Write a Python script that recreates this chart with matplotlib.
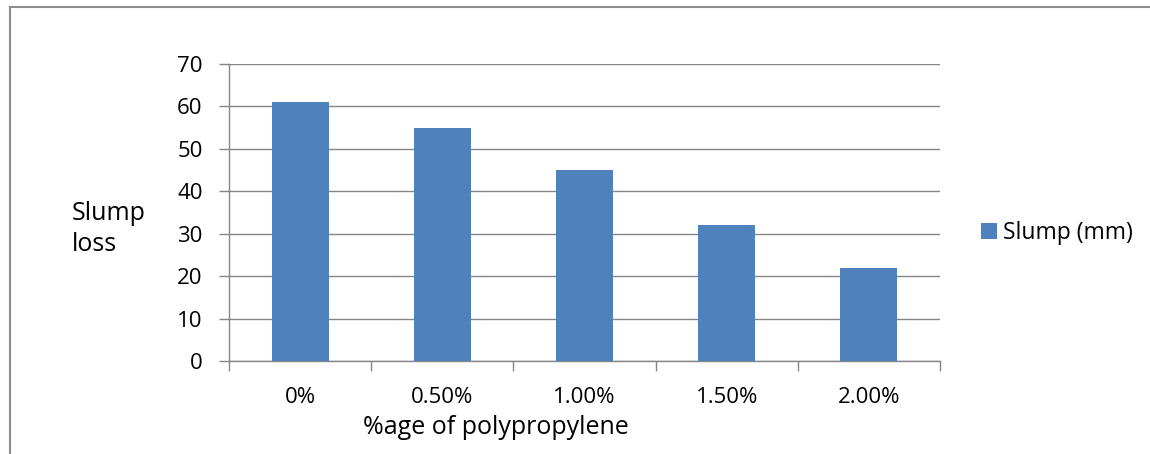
import matplotlib
matplotlib.use('Agg')
import numpy as np
import matplotlib.pyplot as plt
from matplotlib.lines import Line2D

# Data
categories = ['0%', '0.50%', '1.00%', '1.50%', '2.00%']
slump = [61, 55, 45, 32, 22]
series_name = 'Slump (mm)'

plt.rcParams['font.family'] = ['Open Sans', 'DejaVu Sans']
fs = 16

bar_color = '#4F81BD'
grid_color = '#868686'

fig = plt.figure(figsize=(11.5, 4.54), dpi=100)
ax = fig.add_axes([229/1150, 93/454, 711/1150, 297/454])

x = np.arange(len(categories))
ax.bar(x, slump, width=0.4, color=bar_color, label=series_name, zorder=3)

ax.set_xlim(-0.5, len(categories) - 0.5)
ax.set_ylim(0, 70)
ax.set_yticks(np.arange(0, 71, 10))
ax.yaxis.grid(True, color=grid_color, linewidth=1, zorder=0)

ax.set_xticks(x)
ax.set_xticklabels(categories, fontsize=fs)
ax.set_xticks(np.arange(-0.5, len(categories)), minor=True)
ax.tick_params(axis='x', which='major', length=0, pad=19)
ax.tick_params(axis='x', which='minor', length=7, color=grid_color, width=1)
ax.tick_params(axis='y', length=7, color=grid_color, width=1, labelsize=fs, pad=12)

for s in ['top', 'right']:
    ax.spines[s].set_visible(False)
for s in ['left', 'bottom']:
    ax.spines[s].set_color(grid_color)
    ax.spines[s].set_linewidth(1)

# axis titles (placed like the original, not centred on the axes)
fig.text(496/1150, 1 - 428/454, '%age of polypropylene', fontsize=18,
         ha='center', va='center')
fig.text(72/1150, 1 - 229/454, 'Slump\nloss', fontsize=18, ha='left',
         va='center', linespacing=1.3)

ax.legend(loc='center left', bbox_to_anchor=(1.028, 0.43), frameon=False,
          fontsize=16.5, handlelength=0.7, handleheight=0.7,
          handletextpad=0.3)

# outer chart frame
fig.add_artist(Line2D([10/1150, 10/1150], [0, 1 - 7/454],
                      transform=fig.transFigure, color='#8c8c8c', linewidth=1.5))
fig.add_artist(Line2D([10/1150, 1], [1 - 7/454, 1 - 7/454],
                      transform=fig.transFigure, color='#8c8c8c', linewidth=1.5))

fig.savefig('out.png', dpi=100)
